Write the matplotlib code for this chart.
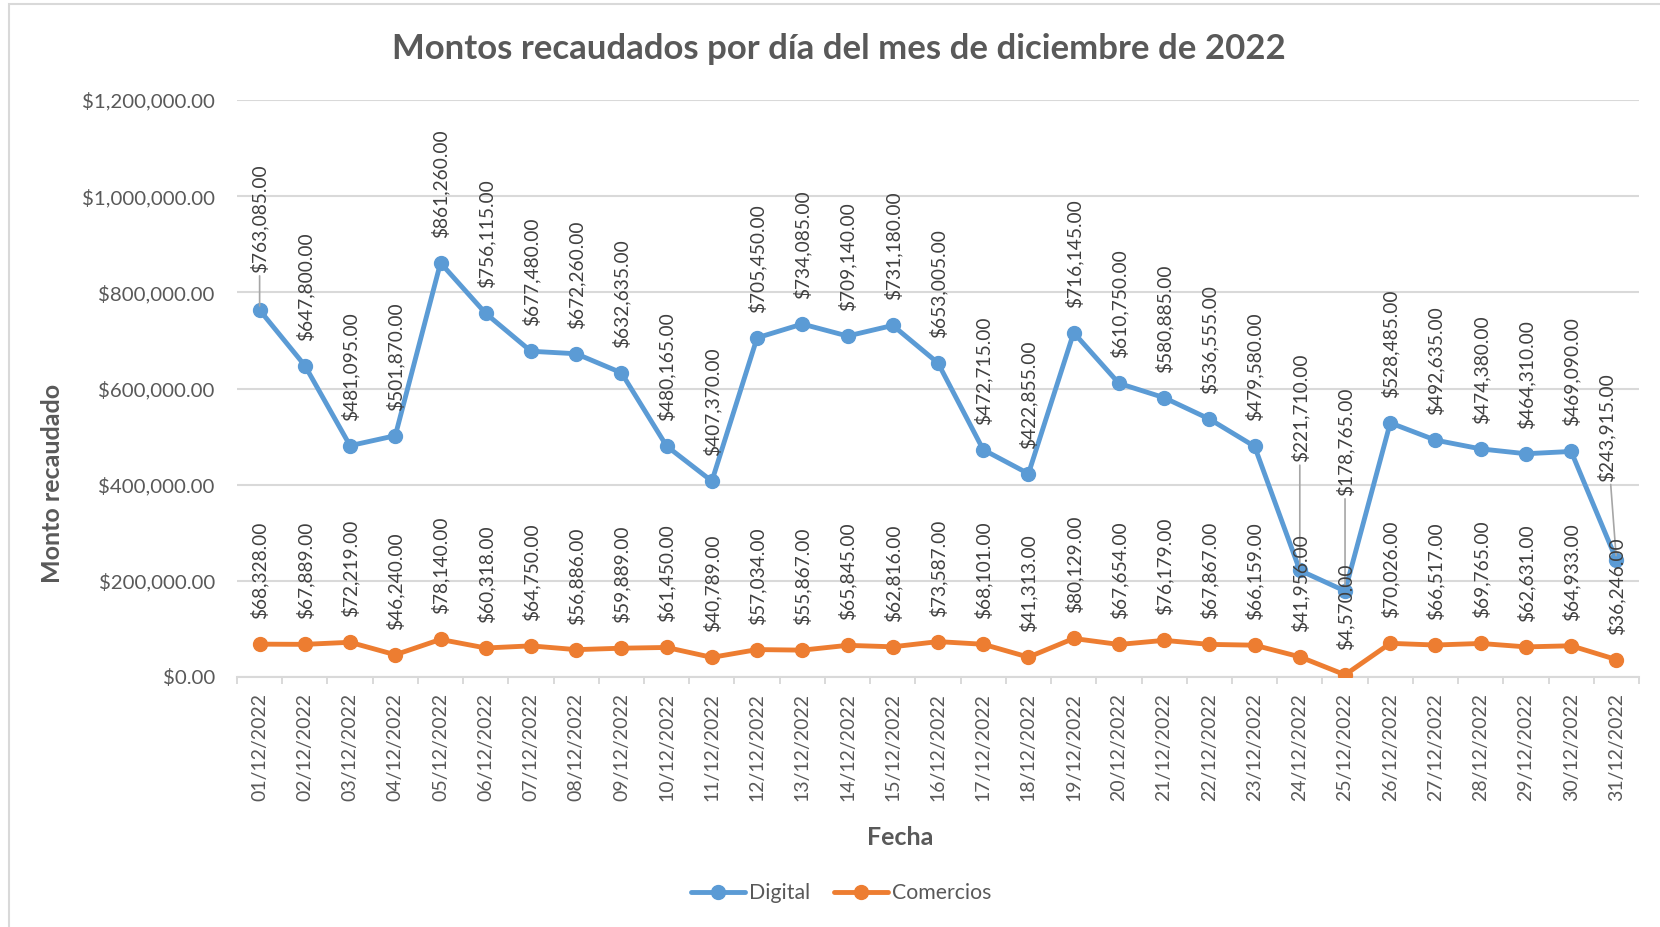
import matplotlib
matplotlib.use("Agg")
import matplotlib.pyplot as plt
from matplotlib.ticker import FuncFormatter
from matplotlib.patches import Rectangle

fechas = ["%02d/12/2022" % d for d in range(1, 32)]

digital = [763085, 647800, 481095, 501870, 861260, 756115, 677480, 672260,
           632635, 480165, 407370, 705450, 734085, 709140, 731180, 653005,
           472715, 422855, 716145, 610750, 580885, 536555, 479580, 221710,
           178765, 528485, 492635, 474380, 464310, 469090, 243915]

comercios = [68328, 67889, 72219, 46240, 78140, 60318, 64750, 56886, 59889,
             61450, 40789, 57034, 55867, 65845, 62816, 73587, 68101, 41313,
             80129, 67654, 76179, 67867, 66159, 41956, 4570, 70026, 66517,
             69765, 62631, 64933, 36246]

# etiquetas movidas a mano en el original (indice: (dx, dy) en pixeles)
desplazadas = {0: (0, 37), 23: (0, 108), 24: (0, 95), 30: (-10, 78)}

gris = "#595959"
azul = "#5B9BD5"
naranja = "#ED7D31"
plt.rcParams['font.family'] = ['Lato', 'DejaVu Sans']

W, H = 1660, 927
fig = plt.figure(figsize=(W / 100, H / 100), dpi=100)
ax = fig.add_axes([237 / W, 1 - 677 / H, (1639 - 237) / W, (677 - 100) / H])

x = list(range(len(fechas)))
ax.plot(x, digital, color=azul, lw=3.5, marker="o", ms=10, label="Digital",
        solid_capstyle="round", solid_joinstyle="round", zorder=3)
ax.plot(x, comercios, color=naranja, lw=3.5, marker="o", ms=10, label="Comercios",
        solid_capstyle="round", solid_joinstyle="round", zorder=3)


def etiqueta(v):
    return "${:,.2f}".format(v)


for i, v in enumerate(digital):
    dx, dy = desplazadas.get(i, (0, 25))
    props = None
    if i in desplazadas:
        props = dict(arrowstyle="-", color="#A6A6A6", lw=1.2, shrinkA=0, shrinkB=3)
    ax.annotate(etiqueta(v), (i, v), xytext=(dx, dy), textcoords="offset pixels",
                rotation=90, ha="center", va="bottom", fontsize=13.8, color="#404040",
                arrowprops=props, zorder=4)

for i, v in enumerate(comercios):
    ax.annotate(etiqueta(v), (i, v), xytext=(0, 25), textcoords="offset pixels",
                rotation=90, ha="center", va="bottom", fontsize=13.8, color="#404040",
                zorder=4)

ax.set_xlim(-0.5, len(fechas) - 0.5)
ax.set_ylim(0, 1200000)
ax.set_yticks(range(0, 1200001, 200000))
ax.yaxis.set_major_formatter(FuncFormatter(lambda v, p: "${:,.2f}".format(v)))
ax.set_xticks(x)
ax.set_xticklabels(fechas, rotation=90)
ax.set_xticks([i - 0.5 for i in range(len(fechas) + 1)], minor=True)
ax.tick_params(axis="both", which="major", length=0, colors=gris)
ax.tick_params(axis="y", pad=16, labelsize=14.7)
ax.tick_params(axis="x", pad=11.5, labelsize=14)
ax.tick_params(axis="x", which="minor", length=5, width=1.4, color="#D9D9D9")
ax.grid(axis="y", color="#D9D9D9", lw=1.5)
ax.set_axisbelow(True)
for s in ["top", "right", "left"]:
    ax.spines[s].set_visible(False)
ax.spines["bottom"].set_color("#D9D9D9")
ax.spines["bottom"].set_linewidth(1.5)

fig.text(839 / W, 1 - 59 / H, "Montos recaudados por día del mes de diciembre de 2022",
         ha="center", va="baseline", fontsize=25, fontweight="bold", color=gris)
ax.set_xlabel("Fecha", fontsize=18, fontweight="bold", color=gris)
ax.xaxis.set_label_coords((900 - 237) / 1402, -(826 - 677) / 577)
ax.set_ylabel("Monto recaudado", fontsize=18, fontweight="bold", color=gris)
ax.yaxis.set_label_coords((64 - 237) / 1402, (677 - 483) / 577)

fig.legend(loc="center", bbox_to_anchor=(841 / W, 1 - 893 / H), ncol=2, frameon=False,
           fontsize=15.3, labelcolor=gris, handlelength=2.55, columnspacing=1.1,
           handletextpad=0.2)

fig.patches.append(Rectangle((9 / W, -0.05), 1.2, 1 - 4 / H + 0.05,
                             transform=fig.transFigure, fill=False,
                             edgecolor="#D9D9D9", lw=1.5))

fig.savefig("out.png", dpi=100)
